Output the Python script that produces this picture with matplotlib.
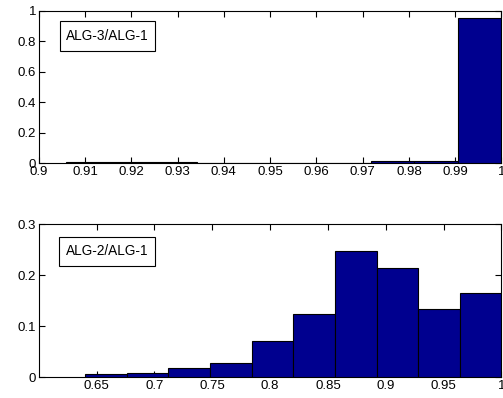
import numpy as np
import matplotlib
matplotlib.use("Agg")
import matplotlib.pyplot as plt
from matplotlib.patches import Rectangle

plt.rcParams['font.family'] = ['Liberation Sans', 'DejaVu Sans']

# --- data ---
top_label = "ALG-3/ALG-1"
top_min, top_max = 0.906, 1.0
top_freq = [0.006, 0.006, 0.006, 0.0, 0.005, 0.005, 0.005, 0.012, 0.012, 0.956]
top_xticks = [0.9, 0.91, 0.92, 0.93, 0.94, 0.95, 0.96, 0.97, 0.98, 0.99, 1.0]
top_xticklabels = ["0.9", "0.91", "0.92", "0.93", "0.94", "0.95", "0.96", "0.97", "0.98", "0.99", "1"]
top_yticks = [0, 0.2, 0.4, 0.6, 0.8, 1.0]
top_yticklabels = ["0", "0.2", "0.4", "0.6", "0.8", "1"]

bot_label = "ALG-2/ALG-1"
bot_min, bot_max = 0.64, 1.0
bot_freq = [0.0065, 0.009, 0.0176, 0.028, 0.0706, 0.1235, 0.248, 0.215, 0.134, 0.165]
bot_xticks = [0.65, 0.7, 0.75, 0.8, 0.85, 0.9, 0.95, 1.0]
bot_xticklabels = ["0.65", "0.7", "0.75", "0.8", "0.85", "0.9", "0.95", "1"]
bot_yticks = [0, 0.1, 0.2, 0.3]
bot_yticklabels = ["0", "0.1", "0.2", "0.3"]

BAR = "#00008F"

fig = plt.figure(figsize=(5.03, 3.98), dpi=100)
ax1 = fig.add_axes([0.077, 0.5897, 0.920, 0.3827])
ax2 = fig.add_axes([0.077, 0.052, 0.920, 0.3844])

def draw(ax, vmin, vmax, freq, xlim, ylim, xt, xtl, yt, ytl, label, box):
    edges = np.linspace(vmin, vmax, len(freq) + 1)
    ax.bar(edges[:-1], freq, width=np.diff(edges), align='edge',
           color=BAR, edgecolor='black', linewidth=0.8, zorder=3)
    ax.set_xlim(*xlim)
    ax.set_ylim(*ylim)
    ax.set_xticks(xt)
    ax.set_xticklabels(xtl)
    ax.set_yticks(yt)
    ax.set_yticklabels(ytl)
    ax.tick_params(direction='in', top=True, right=True, length=4, width=0.8,
                   labelsize=9.5, pad=2)
    for s in ax.spines.values():
        s.set_linewidth(0.8)
    x0, y0, x1, y1 = box
    ax.add_patch(Rectangle((x0, y0), x1 - x0, y1 - y0, transform=ax.transAxes,
                           facecolor='white', edgecolor='black', linewidth=0.8,
                           zorder=5))
    ax.text((x0 + x1) / 2, (y0 + y1) / 2, label, transform=ax.transAxes,
            ha='center', va='center', fontsize=9.8, zorder=6)

draw(ax1, top_min, top_max, top_freq, (0.9, 1.0), (0, 1), top_xticks, top_xticklabels,
     top_yticks, top_yticklabels, top_label, (0.046, 0.737, 0.251, 0.934))
draw(ax2, bot_min, bot_max, bot_freq, (0.6, 1.0), (0, 0.3), bot_xticks, bot_xticklabels,
     bot_yticks, bot_yticklabels, bot_label, (0.044, 0.727, 0.251, 0.919))

fig.savefig("out.png", dpi=100)
